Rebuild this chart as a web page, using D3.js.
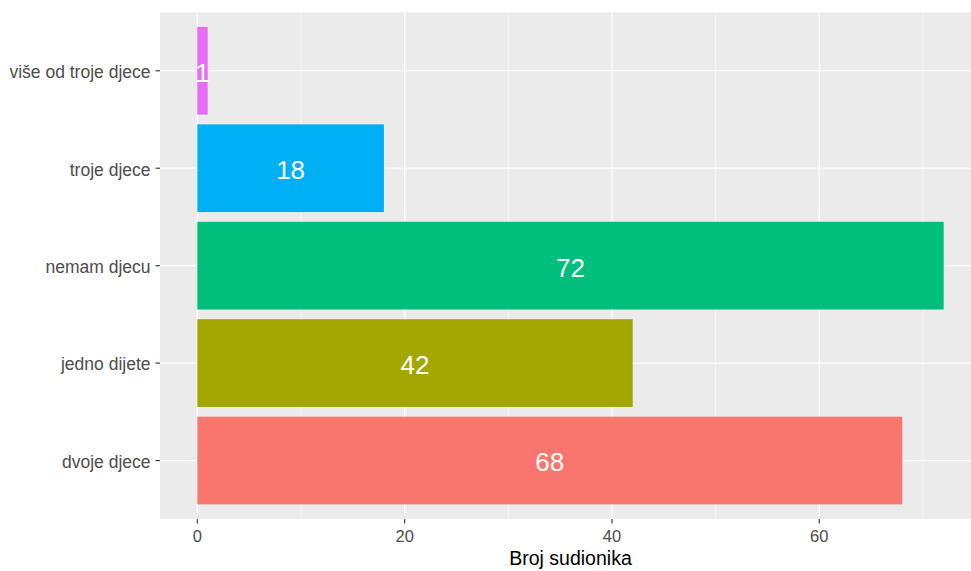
<!DOCTYPE html>
<html><head><meta charset="utf-8">
<script src="https://d3js.org/d3.v7.min.js"></script>
<style>body{margin:0;background:#fff;} svg{display:block;font-family:"Liberation Sans",Arial,sans-serif;}</style>
</head><body>
<svg id="chart" width="971" height="571"></svg>
<script>
const categories = ["dvoje djece","jedno dijete","nemam djecu","troje djece","više od troje djece"];
const values = [68, 42, 72, 18, 1];
const colors = ["#F8766D","#A3A500","#00BF7D","#00B0F6","#E76BF3"];
const xTicks = [0, 20, 40, 60];
const xMinor = [10, 30, 50, 70];
const xTitle = "Broj sudionika";

const svg = d3.select("#chart");
const panel = {left:160, top:12.3, right:981, bottom:519};

const x = d3.scaleLinear().domain([-3.6, 75.6]).range([panel.left, panel.right]);
// discrete axis with ggplot expansion of 0.6 units each side
const yPos = d3.scaleLinear().domain([0.4, 5.6]).range([panel.bottom, panel.top]);

svg.append("rect").attr("x",panel.left).attr("y",panel.top)
  .attr("width",panel.right-panel.left).attr("height",panel.bottom-panel.top).attr("fill","#EBEBEB");

const g = svg.append("g");
xMinor.forEach(v=>{
  g.append("line").attr("x1",x(v)).attr("x2",x(v)).attr("y1",panel.top).attr("y2",panel.bottom)
   .attr("stroke","#fff").attr("stroke-width",0.6);
});
xTicks.forEach(v=>{
  g.append("line").attr("x1",x(v)).attr("x2",x(v)).attr("y1",panel.top).attr("y2",panel.bottom)
   .attr("stroke","#fff").attr("stroke-width",1.2);
});
categories.forEach((c,i)=>{
  g.append("line").attr("x1",panel.left).attr("x2",panel.right).attr("y1",yPos(i+1)).attr("y2",yPos(i+1))
   .attr("stroke","#fff").attr("stroke-width",1.2);
});

svg.selectAll("rect.bar").data(values).enter().append("rect").attr("class","bar")
  .attr("x", x(0))
  .attr("y", (d,i)=>yPos(i+1) - 0.45*(yPos(1)-yPos(2)))
  .attr("width", d=>x(d)-x(0))
  .attr("height", 0.9*(yPos(1)-yPos(2)))
  .attr("fill", (d,i)=>colors[i]);

svg.selectAll("text.lab").data(values).enter().append("text").attr("class","lab")
  .attr("x", d=>x(d/2)).attr("y",(d,i)=>yPos(i+1))
  .attr("dy","0.42em").attr("text-anchor","middle").attr("fill","#fff")
  .attr("font-size","26px").text(d=>d);

// y axis ticks & labels
categories.forEach((c,i)=>{
  svg.append("line").attr("x1",panel.left-4.5).attr("x2",panel.left).attr("y1",yPos(i+1)).attr("y2",yPos(i+1))
    .attr("stroke","#333").attr("stroke-width",1.1);
  svg.append("text").attr("x",panel.left-9.5).attr("y",yPos(i+1)).attr("dy","0.42em")
    .attr("text-anchor","end").attr("fill","#4D4D4D").attr("font-size","17.5px").text(c);
});
// x axis ticks & labels
xTicks.forEach(v=>{
  svg.append("line").attr("x1",x(v)).attr("x2",x(v)).attr("y1",panel.bottom).attr("y2",panel.bottom+4.5)
    .attr("stroke","#333").attr("stroke-width",1.1);
  svg.append("text").attr("x",x(v)).attr("y",542).attr("text-anchor","middle")
    .attr("fill","#4D4D4D").attr("font-size","16.5px").text(v);
});
svg.append("text").attr("x",(panel.left+panel.right)/2).attr("y",565).attr("text-anchor","middle")
  .attr("fill","#000").attr("font-size","19.5px").text(xTitle);
</script>
</body></html>
